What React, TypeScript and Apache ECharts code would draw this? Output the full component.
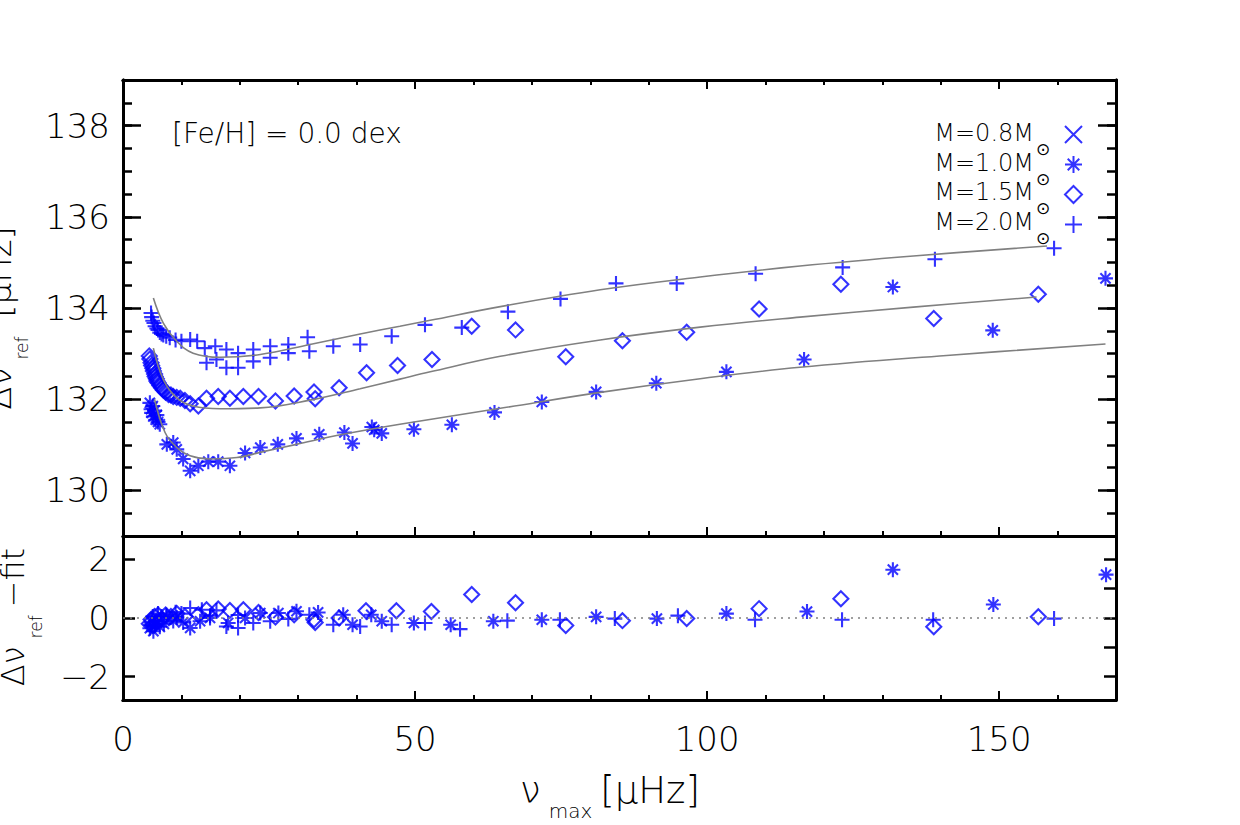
import React, { useEffect, useRef } from 'react';
import * as echarts from 'echarts';

// ---------- data ----------
const star10X = [4.6, 4.8, 4.9, 5.1, 5.2, 5.4, 5.6, 5.8, 6.0, 6.3, 7.5, 8.6, 9.2, 10.3, 11.5, 12.9, 14.6, 16.3, 18.3, 20.9, 23.5, 26.5, 29.7, 33.6, 37.9, 39.3, 42.6, 43.0, 44.3, 49.8, 56.3, 63.6, 71.7, 81.0, 91.3, 103.3, 116.6, 131.8, 148.9, 168.2];
const star10Y = [131.92, 131.78, 131.70, 131.85, 131.62, 131.75, 131.55, 131.65, 131.50, 131.45, 131.01, 131.05, 130.90, 130.69, 130.43, 130.54, 130.63, 130.63, 130.54, 130.82, 130.94, 131.01, 131.14, 131.23, 131.27, 131.03, 131.39, 131.33, 131.25, 131.34, 131.44, 131.71, 131.94, 132.16, 132.35, 132.60, 132.87, 134.46, 133.51, 134.65];

const dia15X = [4.5, 4.6, 4.8, 4.9, 5.1, 5.2, 5.4, 5.5, 5.7, 5.8, 6.0, 6.3, 6.6, 6.9, 7.3, 7.8, 8.2, 8.6, 9.2, 9.8, 10.6, 11.5, 12.9, 14.3, 16.3, 18.3, 20.6, 23.2, 26.1, 29.3, 32.7, 32.9, 37.0, 41.7, 47.0, 52.9, 59.7, 67.2, 75.8, 85.5, 96.5, 108.9, 122.9, 138.8, 156.7];
const dia15Y = [132.95, 132.88, 132.80, 132.74, 132.68, 132.62, 132.55, 132.50, 132.45, 132.40, 132.36, 132.30, 132.25, 132.20, 132.15, 132.10, 132.09, 132.06, 132.04, 132.02, 131.97, 131.90, 131.85, 132.02, 132.06, 132.02, 132.06, 132.06, 131.96, 132.07, 132.16, 132.01, 132.25, 132.58, 132.74, 132.87, 133.60, 133.52, 132.93, 133.28, 133.47, 133.98, 134.52, 133.77, 134.30];

const plus20X = [4.8, 4.9, 5.1, 5.3, 5.5, 5.8, 6.0, 6.3, 6.6, 6.9, 7.4, 8.0, 9.0, 10.0, 11.5, 12.7, 14.0, 14.3, 15.8, 16.0, 17.7, 17.7, 19.7, 19.7, 22.3, 22.3, 25.2, 25.2, 28.3, 28.3, 31.6, 31.9, 36.0, 40.6, 46.0, 51.7, 58.0, 65.9, 74.9, 84.4, 94.8, 108.3, 123.2, 139.0, 159.4];
const plus20Y = [133.89, 133.80, 133.72, 133.67, 133.60, 133.55, 133.52, 133.46, 133.43, 133.41, 133.38, 133.35, 133.30, 133.27, 133.31, 133.27, 133.12, 132.80, 133.16, 132.87, 133.09, 132.69, 133.01, 132.69, 133.09, 132.83, 133.16, 132.91, 133.20, 133.01, 133.36, 133.05, 133.16, 133.20, 133.38, 133.63, 133.57, 133.92, 134.20, 134.54, 134.54, 134.75, 134.89, 135.07, 135.31];

const fit10X = [5.4, 7.2, 9.2, 11.5, 14.9, 19.5, 24.0, 29.7, 37.7, 47.4, 64.6, 81.7, 98.8, 115.9, 141.0, 168.2];
const fit10Y = [132.00, 131.27, 130.94, 130.76, 130.69, 130.72, 130.85, 131.01, 131.23, 131.45, 131.80, 132.15, 132.45, 132.70, 132.96, 133.21];
const fit15X = [5.2, 6.9, 9.2, 12.0, 16.6, 23.5, 32.0, 40.6, 47.4, 52.6, 64.6, 81.7, 98.8, 115.9, 135.3, 156.4];
const fit15Y = [133.12, 132.43, 132.03, 131.85, 131.79, 131.81, 131.98, 132.23, 132.44, 132.60, 132.94, 133.30, 133.58, 133.80, 134.02, 134.24];
const fit20X = [5.2, 6.9, 9.2, 12.0, 16.6, 23.5, 32.0, 40.6, 47.4, 52.6, 64.6, 81.7, 98.8, 115.9, 135.3, 158.2];
const fit20Y = [134.22, 133.67, 133.27, 133.01, 132.92, 132.98, 133.20, 133.43, 133.60, 133.73, 134.03, 134.40, 134.68, 134.92, 135.14, 135.36];

const res10X = [4.6, 4.9, 5.2, 5.5, 5.8, 6.3, 7.0, 7.5, 8.6, 9.2, 10.3, 11.5, 13.2, 14.9, 18.0, 20.9, 23.5, 26.6, 29.7, 33.4, 37.7, 39.3, 42.5, 44.3, 49.8, 56.1, 63.4, 71.7, 81.0, 91.4, 103.3, 117.1, 131.8, 149.0, 168.3];
const res10Y = [-0.35, -0.15, -0.45, -0.25, -0.10, -0.30, -0.20, 0.05, -0.10, 0.02, -0.15, -0.34, -0.11, 0.00, -0.17, 0.00, 0.17, 0.17, 0.23, 0.19, 0.11, -0.23, 0.11, -0.11, -0.17, -0.23, -0.11, -0.06, 0.04, -0.02, 0.15, 0.22, 1.65, 0.46, 1.48];
const res15X = [4.5, 4.8, 5.1, 5.4, 5.7, 6.0, 6.6, 7.3, 8.2, 9.2, 10.6, 12.9, 14.3, 16.3, 18.3, 20.6, 23.2, 26.1, 29.3, 32.7, 32.9, 37.0, 41.6, 46.8, 52.8, 59.7, 67.2, 75.8, 85.5, 96.5, 108.9, 122.9, 138.8, 156.7];
const res15Y = [-0.20, -0.05, -0.25, 0.05, -0.15, 0.10, -0.05, 0.10, 0.05, 0.15, 0.05, 0.11, 0.28, 0.31, 0.26, 0.28, 0.19, 0.03, 0.11, -0.06, -0.15, 0.00, 0.25, 0.25, 0.22, 0.80, 0.52, -0.26, -0.09, -0.02, 0.32, 0.66, -0.30, 0.04];
const res20X = [4.8, 5.1, 5.5, 6.0, 6.6, 7.4, 9.0, 10.0, 11.5, 13.5, 14.9, 16.0, 17.7, 19.7, 19.7, 22.3, 25.2, 28.3, 31.9, 36.0, 40.6, 46.0, 51.7, 57.7, 65.8, 74.8, 84.2, 95.0, 108.2, 123.1, 138.7, 159.4];
const res20Y = [-0.25, 0.05, -0.10, 0.15, 0.05, 0.10, 0.20, 0.15, 0.34, 0.28, 0.08, 0.26, -0.29, -0.34, 0.10, -0.17, -0.11, -0.03, 0.11, -0.23, -0.29, -0.23, -0.17, -0.38, -0.09, -0.06, -0.02, 0.08, -0.06, -0.06, -0.06, -0.02];

const massNames = ['M=0.8', 'M=1.0', 'M=1.5', 'M=2.0'];
const legendTexts = ['M=0.8M', 'M=1.0M', 'M=1.5M', 'M=2.0M'];
const topTicks = [130, 132, 134, 136, 138];
const resTicks = [-2, -1, 0, 1, 2];
const xRange = [0, 170];
const yTopRange = [129, 139];
const yResRange = [-2.8, 2.8];

// ---------- styles ----------
const FONT = '"DejaVu Sans", sans-serif';
const FW = 200;
const BLUE = '#0000ff';
const GRAY = '#808080';
const SYM = {
  cross: 'path://M0,0L10,10M10,0L0,10',
  star: 'path://M5,0L5,10M0,5L10,5M1.6,1.6L8.4,8.4M8.4,1.6L1.6,8.4',
  diamond: 'path://M5,0L10,5L5,10L0,5Z',
  plus: 'path://M5,0L5,10M0,5L10,5',
};
const pts = (xs: number[], ys: number[]) => xs.map((x, i) => [x, ys[i]]);

const symStyle = { color: 'rgba(0,0,0,0)', borderColor: BLUE, borderWidth: 2.1 };

function xAx(grid: number, position: string, interval: number, len: number, labels: boolean) {
  return {
    type: 'value', gridIndex: grid, position, min: xRange[0], max: xRange[1], interval,
    axisLine: { show: true, onZero: false, lineStyle: { color: '#000', width: 3 } },
    axisTick: { show: true, inside: true, length: len, lineStyle: { color: '#000', width: 2 } },
    axisLabel: labels
      ? { show: true, margin: 22, fontSize: 34, color: '#000', fontFamily: FONT, fontWeight: FW, showMaxLabel: false }
      : { show: false },
    splitLine: { show: false },
  };
}

function yAx(grid: number, position: string, range: number[], opts: any) {
  return {
    type: 'value', gridIndex: grid, position, min: range[0], max: range[1],
    axisLine: { show: true, onZero: false, lineStyle: { color: '#000', width: 3 } },
    splitLine: { show: false },
    ...opts,
  };
}

const majorTopTick = { show: true, inside: true, length: 18, customValues: topTicks, lineStyle: { color: '#000', width: 2.5 } };
const minorTopTick = { show: true, inside: true, length: 9, lineStyle: { color: '#000', width: 2.5 } };
const resTick = { show: true, inside: true, length: 12, customValues: resTicks, lineStyle: { color: '#000', width: 2.5 } };

const labelStyle = {
  fontSize: 34, lineHeight: 26, color: '#000', fontFamily: FONT, fontWeight: FW, margin: 13,
  showMinLabel: true, showMaxLabel: true, hideOverlap: false,
};

const titleRich = (main: number, sub: number, lh: number) => ({
  d: { fontSize: main, lineHeight: lh, fontFamily: FONT, fontWeight: FW },
  n: { fontSize: main, lineHeight: lh, fontFamily: FONT, fontWeight: FW },
  s: { fontSize: sub, lineHeight: sub, fontFamily: FONT, fontWeight: FW, verticalAlign: 'bottom', padding: [0, 8, 0, 8] },
});

const fitLine = (name: string, xs: number[], ys: number[]) => ({
  name, type: 'line', xAxisIndex: 0, yAxisIndex: 0, showSymbol: false, smooth: 0.4,
  lineStyle: { color: GRAY, width: 1.6 }, data: pts(xs, ys),
});

const option: any = {
  animation: false,
  backgroundColor: '#fff',
  grid: [
    { left: 123, top: 80, width: 993, height: 456 },
    { left: 123, top: 536, width: 993, height: 164 },
  ],
  xAxis: [
    xAx(0, 'bottom', 10, 5, false),
    xAx(0, 'bottom', 50, 9, false),
    xAx(0, 'top', 10, 5, false),
    xAx(0, 'top', 50, 9, false),
    xAx(1, 'bottom', 10, 5, false),
    xAx(1, 'bottom', 50, 9, true),
  ],
  yAxis: [
    yAx(0, 'left', yTopRange, { interval: 0.5, axisTick: minorTopTick, axisLabel: { show: false } }),
    yAx(0, 'left', yTopRange, { axisTick: majorTopTick, axisLabel: { ...labelStyle, customValues: topTicks } }),
    yAx(0, 'right', yTopRange, { interval: 0.5, axisTick: minorTopTick, axisLabel: { show: false } }),
    yAx(0, 'right', yTopRange, { axisTick: majorTopTick, axisLabel: { show: false } }),
    yAx(1, 'left', yResRange, {
      axisTick: resTick,
      axisLabel: { ...labelStyle, customValues: resTicks, formatter: (v: number) => (v < 0 ? '\u2212' + Math.abs(v) : String(v)) },
    }),
    yAx(1, 'right', yResRange, { axisTick: resTick, axisLabel: { show: false } }),
  ],
  legend: {
    show: true,
    orient: 'vertical',
    left: 1059,
    top: 120,
    itemWidth: 17,
    itemHeight: 17,
    itemGap: 11,
    selectedMode: false,
    formatter: () => '',
    textStyle: { fontSize: 1 },
    data: massNames,
  },
  series: [
    { name: 'M=0.8', type: 'scatter', xAxisIndex: 0, yAxisIndex: 0, symbol: SYM.cross, symbolSize: 15, itemStyle: symStyle, data: [] },
    { name: 'M=1.0', type: 'scatter', xAxisIndex: 0, yAxisIndex: 0, symbol: SYM.star, symbolSize: 15, itemStyle: symStyle, data: pts(star10X, star10Y) },
    { name: 'M=1.5', type: 'scatter', xAxisIndex: 0, yAxisIndex: 0, symbol: SYM.diamond, symbolSize: 15, itemStyle: symStyle, data: pts(dia15X, dia15Y) },
    { name: 'M=2.0', type: 'scatter', xAxisIndex: 0, yAxisIndex: 0, symbol: SYM.plus, symbolSize: 15, itemStyle: symStyle, data: pts(plus20X, plus20Y) },
    fitLine('fit1.0', fit10X, fit10Y),
    fitLine('fit1.5', fit15X, fit15Y),
    fitLine('fit2.0', fit20X, fit20Y),
    {
      name: 'res1.0', type: 'scatter', xAxisIndex: 4, yAxisIndex: 4, symbol: SYM.star, symbolSize: 15, itemStyle: symStyle, data: pts(res10X, res10Y),
      markLine: { silent: true, symbol: 'none', label: { show: false }, lineStyle: { color: GRAY, type: [2, 5], width: 1.6 }, data: [{ yAxis: 0 }] },
    },
    { name: 'res1.5', type: 'scatter', xAxisIndex: 4, yAxisIndex: 4, symbol: SYM.diamond, symbolSize: 15, itemStyle: symStyle, data: pts(res15X, res15Y) },
    { name: 'res2.0', type: 'scatter', xAxisIndex: 4, yAxisIndex: 4, symbol: SYM.plus, symbolSize: 15, itemStyle: symStyle, data: pts(res20X, res20Y) },
  ],
  graphic: [
    {
      type: 'text', x: 172, y: 133,
      style: { text: '[Fe/H] = 0.0 dex', fontSize: 28, fontFamily: FONT, fontWeight: FW, fill: '#000', verticalAlign: 'middle' },
    },
    ...legendTexts.map((t, i) => ({
      type: 'group',
      children: [
        { type: 'text', x: 1034, y: 133 + 29.7 * i, style: { text: t, fontSize: 24, fontFamily: FONT, fontWeight: FW, fill: '#000', align: 'right', verticalAlign: 'middle' } },
        { type: 'text', x: 1043, y: 149 + 29.7 * i, style: { text: '\u2299', fontSize: 17, fontFamily: FONT, fill: '#000', align: 'center', verticalAlign: 'middle' } },
      ],
    })),
    {
      type: 'text', x: -1, y: 318, rotation: Math.PI / 2,
      style: {
        text: '{d|Δ}{n|ν}{s|ref}{d| [μHz]}', align: 'center', verticalAlign: 'middle', fill: '#000',
        rich: titleRich(34, 17, 62),
      },
    },
    {
      type: 'text', x: 13, y: 617, rotation: Math.PI / 2,
      style: {
        text: '{d|Δ}{n|ν}{s|ref}{d|\u2212fit}', align: 'center', verticalAlign: 'middle', fill: '#000',
        rich: titleRich(32, 17, 62),
      },
    },
    {
      type: 'text', x: 610, y: 790,
      style: {
        text: '{n|ν}{s|max}{d|[μHz]}', align: 'center', verticalAlign: 'middle', fill: '#000',
        rich: titleRich(37, 20, 62),
      },
    },
  ],
};

export default function App() {
  const ref = useRef<HTMLDivElement>(null);
  useEffect(() => {
    const chart = echarts.init(ref.current!, null, { renderer: 'svg' });
    chart.setOption(option);
    return () => chart.dispose();
  }, []);
  return (
    <div
      ref={ref}
      style={{ position: 'absolute', left: 0, top: 0, width: 1240, height: 825, background: '#fff' }}
    />
  );
}
